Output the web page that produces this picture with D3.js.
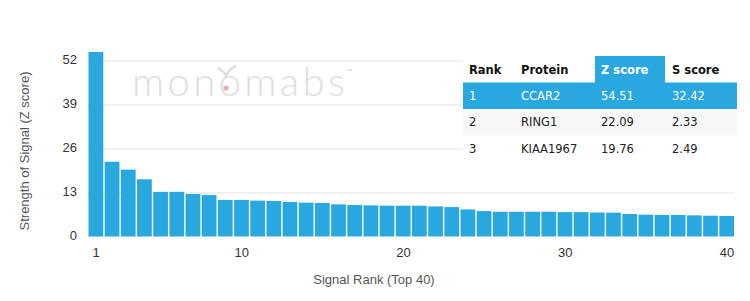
<!DOCTYPE html>
<html lang="en">
<head>
  <meta charset="UTF-8">
  <title>Signal Rank Chart</title>
  <script src="https://cdn.jsdelivr.net/npm/d3@7"></script>
  <style>
    body { margin: 0; background: #fff; }
    svg text { font-family: "Liberation Sans", Arial, sans-serif; }
    .tbl text { font-family: "DejaVu Sans", sans-serif; font-size: 11.5px; }
  </style>
</head>
<body>
  <script>
    // values
    var ranks = d3.range(1, 41);
    var zValues = [54.51, 22.09, 19.76, 16.9, 13.2, 13.2, 12.55, 12.25, 10.8, 10.8,
                   10.6, 10.5, 10.2, 10.0, 9.9, 9.5, 9.3, 9.2, 9.1, 9.1,
                   9.1, 8.9, 8.7, 8.0, 7.5, 7.3, 7.3, 7.3, 7.3, 7.2,
                   7.2, 7.1, 7.05, 6.65, 6.45, 6.35, 6.35, 6.25, 6.15, 6.05];
    var yTicks = [0, 13, 26, 39, 52];
    var xTicks = [1, 10, 20, 30, 40];

    // table
    var headers = ["Rank", "Protein", "Z score", "S score"];
    var tRank = ["1", "2", "3"];
    var tProtein = ["CCAR2", "RING1", "KIAA1967"];
    var tZ = ["54.51", "22.09", "19.76"];
    var tS = ["32.42", "2.33", "2.49"];

    var W = 750, H = 301;
    var blue = "#29a8e0";
    var plotL = 88, plotR = 735, plotT = 60.5, plotB = 236.5;

    var svg = d3.select("body").append("svg")
        .attr("width", W)
        .attr("height", H);

    var x = d3.scaleBand().domain(ranks).range([plotL, plotR]).padding(0);
    var y = d3.scaleLinear().domain([0, 52]).range([plotB, plotT]);

    // gridlines
    svg.append("g").selectAll("line")
      .data(yTicks.filter(function(d) { return d > 0; }))
      .enter().append("line")
        .attr("x1", plotL).attr("x2", plotR)
        .attr("y1", function(d) { return y(d) + 0.5; })
        .attr("y2", function(d) { return y(d) + 0.5; })
        .attr("stroke", "#e3e3e3").attr("stroke-width", 1);

    // watermark
    var wm = svg.append("g");
    wm.append("text")
      .attr("x", 132).attr("y", 96)
      .attr("textLength", 213).attr("lengthAdjust", "spacing")
      .style("font-family", "Lato, 'Open Sans', sans-serif")
      .style("font-weight", 300)
      .style("font-size", "40px")
      .attr("fill", "#dedede")
      .text("monomabs");
    wm.append("text")
      .attr("x", 346).attr("y", 73)
      .style("font-size", "6px").attr("fill", "#d0d0d0")
      .text("™");
    wm.append("circle").attr("cx", 226).attr("cy", 88).attr("r", 2.6).attr("fill", "#f2a7a7");
    wm.append("path")
      .attr("d", "M226,77 C225,73 222,70 218,68 M226,77 C227,72 231,68 236,66")
      .attr("fill", "none").attr("stroke", "#dedede").attr("stroke-width", 2.5);

    // bars
    svg.append("g").selectAll("rect")
      .data(zValues)
      .enter().append("rect")
        .attr("x", function(d, i) { return x(ranks[i]) + 0.5; })
        .attr("width", x.bandwidth() - 1.4)
        .attr("y", function(d) { return y(d); })
        .attr("height", function(d) { return y(0) - y(d); })
        .attr("fill", blue);

    // y axis labels
    svg.append("g").selectAll("text")
      .data(yTicks)
      .enter().append("text")
        .attr("x", 77)
        .attr("y", function(d) { return y(d) - 1.5; })
        .attr("dy", "0.35em")
        .attr("text-anchor", "end")
        .style("font-size", "13px")
        .attr("fill", "#333")
        .text(function(d) { return d; });

    // x axis labels
    svg.append("g").selectAll("text")
      .data(xTicks)
      .enter().append("text")
        .attr("x", function(d) { return x(d) + x.bandwidth() / 2; })
        .attr("y", 252)
        .attr("dy", "0.35em")
        .attr("text-anchor", "middle")
        .style("font-size", "13px")
        .attr("fill", "#333")
        .text(function(d) { return d; });

    // axis titles
    svg.append("text")
      .attr("transform", "translate(29,151) rotate(-90)")
      .attr("text-anchor", "middle")
      .style("font-size", "13px")
      .attr("fill", "#555")
      .text("Strength of Signal (Z score)");

    svg.append("text")
      .attr("x", 374).attr("y", 284)
      .attr("text-anchor", "middle")
      .style("font-size", "13px")
      .attr("fill", "#555")
      .text("Signal Rank (Top 40)");

    // table
    var tbl = svg.append("g").attr("class", "tbl");
    var tLeft = 463, tRight = 737, tTop = 56, rowH = 26.5;
    var colX = [469, 521, 601, 672];
    var rows = d3.range(tRank.length).map(function(i) {
      return [tRank[i], tProtein[i], tZ[i], tS[i]];
    });

    tbl.append("rect")
      .attr("x", tLeft).attr("y", tTop)
      .attr("width", tRight - tLeft).attr("height", rowH * 4 + 1)
      .attr("fill", "#fff");

    // highlighted header cell
    tbl.append("rect")
      .attr("x", 595).attr("y", tTop)
      .attr("width", 70).attr("height", rowH + 0.5)
      .attr("fill", blue);

    tbl.selectAll("text.h")
      .data(headers)
      .enter().append("text")
        .attr("class", "h")
        .attr("x", function(d, i) { return colX[i]; })
        .attr("y", tTop + rowH / 2 + 0.5)
        .attr("dy", "0.35em")
        .style("font-weight", "bold")
        .attr("fill", function(d, i) { return i === 2 ? "#fff" : "#111"; })
        .text(function(d) { return d; });

    var rowG = tbl.selectAll("g.row")
      .data(rows)
      .enter().append("g")
        .attr("class", "row")
        .attr("transform", function(d, i) { return "translate(0," + (tTop + rowH * (i + 1)) + ")"; });

    rowG.append("rect")
      .attr("x", tLeft).attr("y", 0)
      .attr("width", tRight - tLeft).attr("height", rowH)
      .attr("fill", function(d, i) { return i === 0 ? blue : (i === 1 ? "#f7f7f7" : "#fff"); });

    rowG.each(function(r, ri) {
      d3.select(this).selectAll("text")
        .data(r)
        .enter().append("text")
          .attr("x", function(d, i) { return colX[i]; })
          .attr("y", rowH / 2)
          .attr("dy", "0.35em")
          .attr("fill", ri === 0 ? "#fff" : "#222")
          .text(function(d) { return d; });
    });
  </script>
</body>
</html>
